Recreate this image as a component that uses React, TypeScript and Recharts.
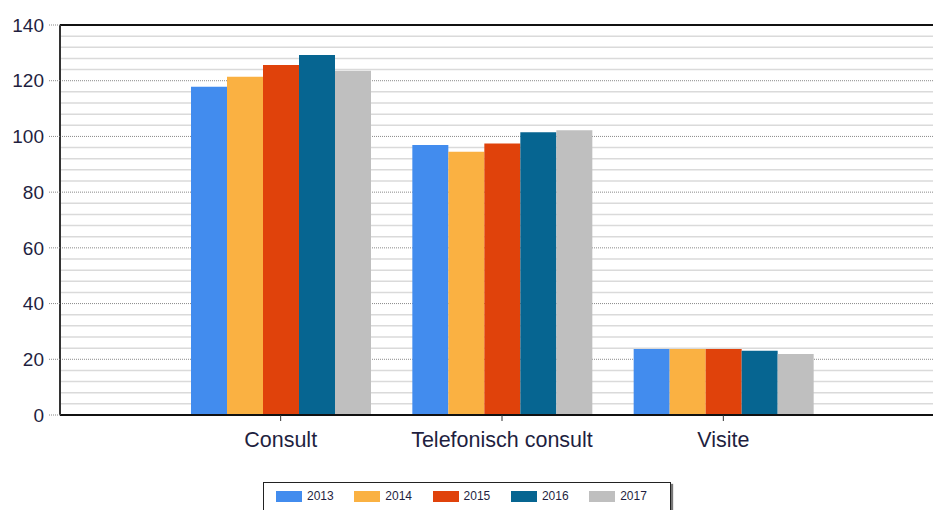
import { BarChart, Bar, XAxis, YAxis, CartesianGrid, ReferenceLine } from 'recharts';

const categories = ['Consult', 'Telefonisch consult', 'Visite'];
const years = ['2013', '2014', '2015', '2016', '2017'];
const colors = ['#428cee', '#fab142', '#e0420b', '#066591', '#bfbfbf'];

const values2013 = [117.8, 96.9, 23.7];
const values2014 = [121.4, 94.5, 23.7];
const values2015 = [125.6, 97.5, 23.7];
const values2016 = [129.2, 101.5, 23.1];
const values2017 = [123.6, 102.2, 21.9];

const seriesValues = [values2013, values2014, values2015, values2016, values2017];

const majorTicks = [0, 20, 40, 60, 80, 100, 120, 140];
const minorTicks = [
  4, 8, 12, 16, 24, 28, 32, 36, 44, 48, 52, 56, 64, 68, 72, 76, 84, 88, 92, 96, 104, 108, 112, 116,
  124, 128, 132, 136,
];

const data = categories.map((name, i) => {
  const row: Record<string, string | number> = { name };
  years.forEach((y, j) => {
    row[y] = seriesValues[j][i];
  });
  return row;
});

const textColor = '#1f1f3f';

function ChartLegend() {
  return (
    <div
      style={{
        position: 'absolute',
        left: 263,
        top: 482,
        width: 408,
        height: 40,
        border: '1px solid #222',
        boxShadow: '2px 2px 1px #777',
        background: '#fff',
        boxSizing: 'border-box',
        paddingLeft: 12,
        paddingTop: 8,
        display: 'flex',
      }}
    >
      {years.map((y, i) => (
        <div key={y} style={{ display: 'flex', alignItems: 'center', width: 78.3, height: 11 }}>
          <span style={{ width: 26, height: 11, background: colors[i], display: 'inline-block' }} />
          <span style={{ marginLeft: 5, fontSize: 12, color: textColor, lineHeight: '11px' }}>{y}</span>
        </div>
      ))}
    </div>
  );
}

export default function App() {
  return (
    <div
      style={{
        position: 'absolute',
        left: 0,
        top: 0,
        width: 933,
        height: 510,
        overflow: 'hidden',
        background: '#fff',
        fontFamily: '"Liberation Sans", Arial, sans-serif',
      }}
    >
      <BarChart
        width={950}
        height={530}
        data={data}
        margin={{ top: 25, right: 6, left: 0, bottom: 85 }}
        barCategoryGap={21}
        barGap={0}
      >
        <CartesianGrid
          vertical={false}
          horizontalValues={minorTicks}
          stroke="#dadada"
          strokeWidth={1.5}
        />
        <CartesianGrid vertical={false} stroke="#8a8a8a" strokeDasharray="1 1" />
        <XAxis
          dataKey="name"
          height={30}
          padding={{ left: 110, right: 110 }}
          axisLine={{ stroke: '#111', strokeWidth: 2 }}
          tickLine={{ stroke: '#333' }}
          tickSize={6}
          tickMargin={11}
          tick={{ fontSize: 21.5, fill: textColor }}
        />
        <YAxis
          width={60}
          domain={[0, 140]}
          ticks={majorTicks}
          interval={0}
          axisLine={{ stroke: '#333', strokeWidth: 2 }}
          tickLine={{ stroke: '#888', strokeDasharray: '1 1' }}
          tickSize={11}
          tickMargin={5}
          tick={{ fontSize: 19, fill: textColor }}
        />
        {years.map((y, i) => (
          <Bar key={y} dataKey={y} fill={colors[i]} isAnimationActive={false} />
        ))}
        <ReferenceLine y={140} stroke="#111" strokeWidth={2} />
      </BarChart>
      <ChartLegend />
    </div>
  );
}
